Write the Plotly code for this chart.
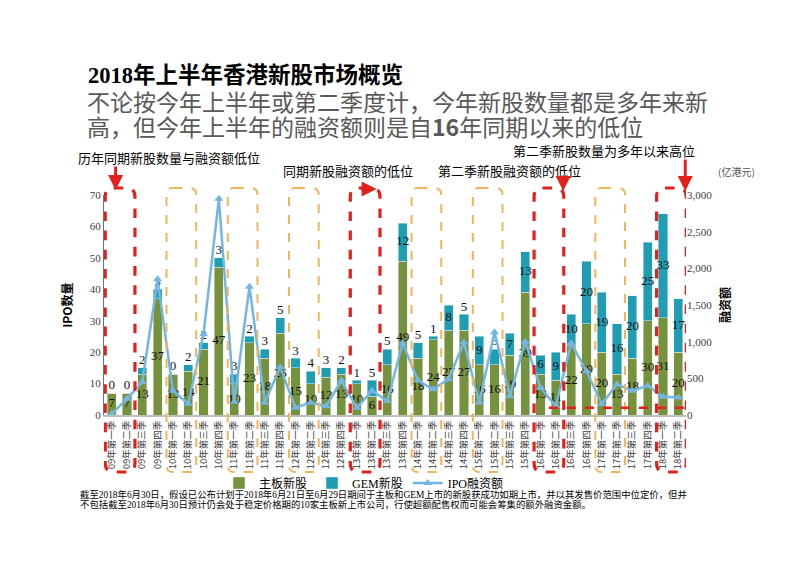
import plotly.graph_objects as go

# ---------------- data ----------------
quarters = [
    "09年第一季", "09年第二季", "09年第三季", "09年第四季",
    "10年第一季", "10年第二季", "10年第三季", "10年第四季",
    "11年第一季", "11年第二季", "11年第三季", "11年第四季",
    "12年第一季", "12年第二季", "12年第三季", "12年第四季",
    "13年第一季", "13年第二季", "13年第三季", "13年第四季",
    "14年第一季", "14年第二季", "14年第三季", "14年第四季",
    "15年第一季", "15年第二季", "15年第三季", "15年第四季",
    "16年第一季", "16年第二季", "16年第三季", "16年第四季",
    "17年第一季", "17年第二季", "17年第三季", "17年第四季",
    "18年第一季", "18年第二季",
]
main_board = [7, 7, 13, 37, 13, 14, 21, 47, 10, 23, 18, 26, 15, 10, 12, 13,
              10, 6, 16, 49, 18, 24, 27, 27, 16, 16, 19, 39, 13, 11, 22, 29,
              20, 13, 18, 30, 31, 20]
gem = [0, 0, 2, 3, 0, 2, 2, 3, 3, 2, 3, 5, 3, 4, 3, 2,
       1, 5, 5, 12, 5, 1, 8, 5, 9, 5, 7, 13, 6, 9, 10, 20,
       19, 16, 20, 25, 33, 17]
ipo_funds = [15, 220, 450, 1850, 330, 155, 1100, 2950, 180, 1750, 170, 650,
             100, 170, 120, 470, 100, 330, 190, 980, 470, 350, 490, 990,
             170, 1130, 260, 1000, 370, 123, 980, 600, 150, 420, 330, 400,
             250, 240]
left_ticks = [0, 10, 20, 30, 40, 50, 60, 70]
right_ticks = [0, 500, 1000, 1500, 2000, 2500, 3000]

red_boxes = [("09年第一季", "09年第二季"), ("13年第一季", "13年第二季"),
             ("16年第一季", "16年第二季"), ("18年第一季", "18年第二季")]
orange_boxes = [("10年第一季", "10年第二季"), ("11年第一季", "11年第二季"),
                ("12年第一季", "12年第二季"), ("14年第一季", "14年第二季"),
                ("15年第一季", "15年第二季"), ("17年第一季", "17年第二季")]
low_line_from = "16年第二季"
low_line_value = 100

# ---------------- figure ----------------
W, H = 800, 565
L, R, T, B = 104, 686, 195, 415


def px(x):
    return (x - L) / (R - L)


def py(y):
    return (B - y) / (B - T)


idx = list(range(len(quarters)))
GREEN = "#76923C"
TEAL = "#1F9DB3"
LINE = "#74B6E2"
RED = "#E3201B"
ORANGE = "#F2B45A"
NUMFONT = "Liberation Serif, Noto Sans CJK SC"
CJK = "Noto Sans CJK SC, sans-serif"

fig = go.Figure()
fig.add_trace(go.Bar(x=idx, y=main_board, name="主板新股", marker_color=GREEN,
                     width=0.6))
fig.add_trace(go.Bar(x=idx, y=gem, name="GEM新股", marker_color=TEAL,
                     width=0.6))
fig.add_trace(go.Scatter(x=idx, y=ipo_funds, name="IPO融资额", yaxis="y2",
                         mode="lines+markers",
                         line=dict(color=LINE, width=2.5),
                         marker=dict(symbol="triangle-up", size=8, color=LINE)))

# data labels
g_y = [m / 2 for m in main_board]
e_y = [m + g / 2 if g >= 6 else m + g + 2.2 for m, g in zip(main_board, gem)]
fig.add_trace(go.Scatter(x=idx, y=g_y, mode="text", text=[str(v) for v in main_board],
                         textfont=dict(family=NUMFONT, size=13, color="#111"),
                         showlegend=False, hoverinfo="skip"))
fig.add_trace(go.Scatter(x=idx, y=e_y, mode="text", text=[str(v) for v in gem],
                         textfont=dict(family=NUMFONT, size=13, color="#111"),
                         showlegend=False, hoverinfo="skip"))


def rounded_box(i0, i1, color, width, dash, rx, ry):
    x0, x1 = i0 - 0.42, i1 + 0.52
    y0, y1 = py(472), py(188)
    path = (f"M {x0+rx},{y1} L {x1-rx},{y1} Q {x1},{y1} {x1},{y1-ry} "
            f"L {x1},{y0+ry} Q {x1},{y0} {x1-rx},{y0} L {x0+rx},{y0} "
            f"Q {x0},{y0} {x0},{y0+ry} L {x0},{y1-ry} Q {x0},{y1} {x0+rx},{y1} Z")
    return dict(type="path", path=path, xref="x", yref="paper",
                line=dict(color=color, width=width, dash=dash), layer="above")


shapes = []
for a, b in orange_boxes:
    shapes.append(rounded_box(quarters.index(a), quarters.index(b), ORANGE, 2,
                              "dash", 0.45, 0.03))
for a, b in red_boxes:
    shapes.append(rounded_box(quarters.index(a), quarters.index(b), RED, 3.2,
                              "dash", 0.55, 0.04))
shapes.append(dict(type="line", xref="x", yref="y2",
                   x0=quarters.index(low_line_from) - 0.45, x1=len(quarters) + 0.25,
                   y0=low_line_value, y1=low_line_value,
                   line=dict(color=RED, width=2.5, dash="dash"), layer="above"))

annotations = []
# titles
annotations.append(dict(xref="paper", yref="paper", x=px(86), y=py(75),
                        xanchor="left", yanchor="middle", showarrow=False,
                        text="<b>2018年上半年香港新股市场概览</b>",
                        font=dict(family="Liberation Serif, Noto Sans CJK SC", size=22.5, color="#000")))
annotations.append(dict(xref="paper", yref="paper", x=px(85), y=py(101),
                        xanchor="left", yanchor="middle", showarrow=False,
                        text="不论按今年上半年或第二季度计，今年新股数量都是多年来新",
                        font=dict(family=CJK, size=23, color="#595959")))
annotations.append(dict(xref="paper", yref="paper", x=px(85), y=py(126),
                        xanchor="left", yanchor="middle", showarrow=False,
                        text="高，但今年上半年的融资额则是自<b>16</b>年同期以来的低位",
                        font=dict(family=CJK, size=23, color="#595959")))
# callouts
for txt, x, y in [("历年同期新股数量与融资额低位", 76, 157),
                  ("同期新股融资额的低位", 281, 170),
                  ("第二季新股融资额的低位", 436, 170),
                  ("第二季新股数量为多年以来高位", 511, 150)]:
    annotations.append(dict(xref="paper", yref="paper", x=px(x), y=py(y),
                            xanchor="left", yanchor="middle", showarrow=False,
                            text=txt, font=dict(family=CJK, size=13, color="#000")))
annotations.append(dict(xref="paper", yref="paper", x=px(716), y=py(171),
                        xanchor="left", yanchor="middle", showarrow=False,
                        text="(亿港元)", font=dict(family=CJK, size=10, color="#555")))
# arrows
for xi, yh, ax, ay in [(0.26, 190, 0, -25), (17.3, 189, -17, 0),
                       (29.48, 191, 0, -16), (37.45, 191, 0, -33)]:
    annotations.append(dict(xref="x", yref="paper", x=xi, y=py(yh),
                            ax=ax, ay=ay, axref="pixel", ayref="pixel",
                            showarrow=True, arrowhead=2, arrowsize=1,
                            arrowwidth=3, arrowcolor=RED, text=""))
# footnote
foot = ["截至2018年6月30日，假设已公布计划于2018年6月21日至6月29日期间于主板和GEM上市的新股获成功如期上市，并以其发售价范围中位定价，但并",
        "不包括截至2018年6月30日预计仍会处于稳定价格期的10家主板新上市公司，行使超额配售权而可能会筹集的额外融资金额。"]
for line_txt, yy in zip(foot, [494, 504]):
    annotations.append(dict(xref="paper", yref="paper", x=px(78), y=py(yy),
                            xanchor="left", yanchor="middle", showarrow=False,
                            text=line_txt,
                            font=dict(family="Liberation Serif, Noto Sans CJK SC", size=9.4, color="#000")))

fig.update_layout(
    width=W, height=H,
    margin=dict(l=L, r=W - R, t=T, b=H - B, pad=0, autoexpand=False),
    paper_bgcolor="white", plot_bgcolor="white",
    barmode="stack", bargap=0.4,
    showlegend=True,
    legend=dict(orientation="h", x=px(219), y=py(483), xanchor="left", yanchor="middle",
                font=dict(family=NUMFONT, size=12, color="#000"),
                itemwidth=30, traceorder="normal", bgcolor="rgba(0,0,0,0)",
                tracegroupgap=0),
    xaxis=dict(range=[-0.5, len(quarters) - 0.5], tickmode="array", tickvals=idx,
               ticktext=quarters, tickangle=-90, showgrid=False, zeroline=False,
               showline=True, linecolor="#BFBFBF", linewidth=2, ticks="",
               automargin=False,
               tickfont=dict(family=CJK, size=9.5, color="#404040")),
    yaxis=dict(range=[0, 70], tickmode="array", tickvals=left_ticks, showgrid=False,
               zeroline=False, showline=True, linecolor="#5A7F6A", linewidth=1,
               ticks="", automargin=False,
               tickfont=dict(family=NUMFONT, size=11, color="#404040"),
               title=dict(text="<b>IPO数量</b>", standoff=14,
                          font=dict(family=CJK, size=12, color="#000"))),
    yaxis2=dict(range=[0, 3000], overlaying="y", side="right", tickmode="array",
                tickvals=right_ticks, tickformat=",", showgrid=False, zeroline=False,
                showline=False, ticks="", automargin=False,
                tickfont=dict(family=NUMFONT, size=11, color="#404040"),
                title=dict(text="<b>融资额</b>", standoff=10,
                           font=dict(family=CJK, size=12, color="#000"))),
    shapes=shapes, annotations=annotations,
)

fig.write_html("out.html", config={"displayModeBar": False},
               post_script="document.body.style.margin='0';document.body.style.overflow='hidden';")
